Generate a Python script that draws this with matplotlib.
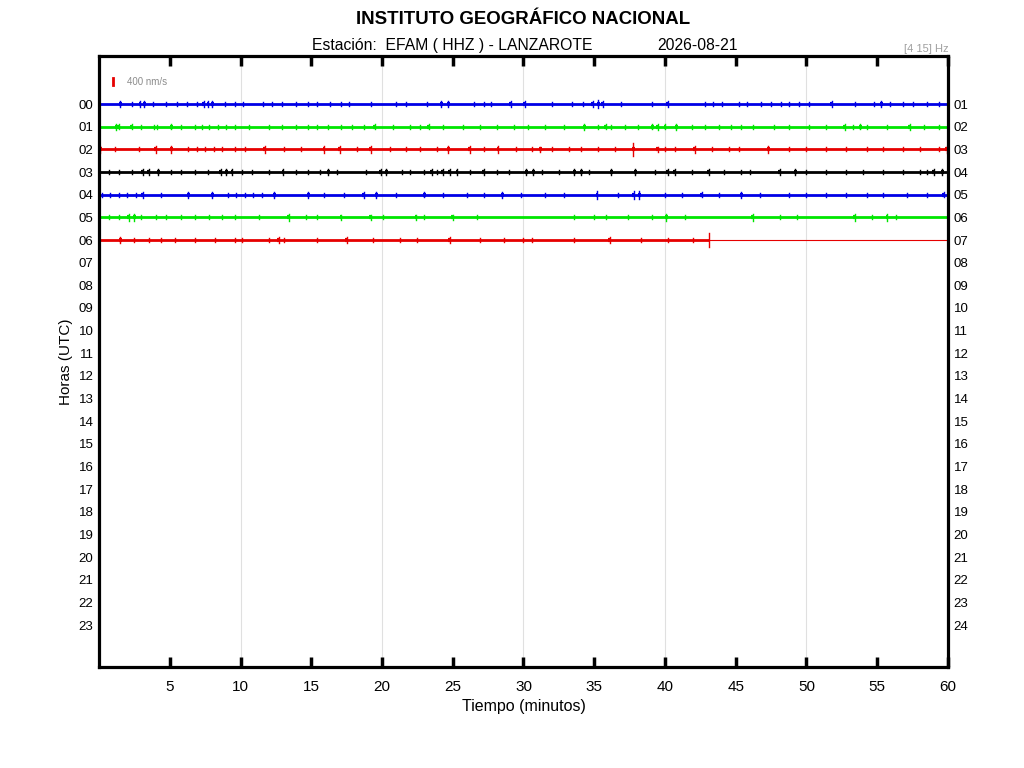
import matplotlib.pyplot as plt

plt.rcParams['font.family'] = ['Liberation Sans', 'DejaVu Sans']

horas_izq = [f"{h:02d}" for h in range(24)]
horas_der = [f"{h:02d}" for h in range(1, 25)]
colores = ['#0000e6', '#00e600', '#e60000', '#000000', '#0000e6', '#00e600', '#e60000']
fin_traza = [60, 60, 60, 60, 60, 60, 43.1]

rafagas_00 = [(1.5, .12), (2.3, .09), (2.9, .12), (3.2, .12), (3.8, .09), (4.7, .09), (5.5, .09), (6.2, .09),
              (6.9, .09), (7.4, .12), (7.7, .15), (8.0, .15), (8.9, .09), (9.6, .09), (10.2, .09), (11.6, .09),
              (12.2, .09), (12.9, .09), (13.9, .09), (14.8, .09), (15.4, .09), (16.3, .09), (17.1, .09),
              (17.7, .09), (19.2, .09), (21.0, .09), (21.7, .09), (23.2, .09), (24.2, .12), (24.7, .12),
              (26.5, .09), (27.2, .09), (27.7, .09), (29.1, .12), (30.1, .12), (32.0, .09), (33.4, .09),
              (34.2, .09), (34.9, .12), (35.3, .17), (35.6, .12), (36.9, .09), (39.1, .09), (40.2, .12),
              (42.8, .09), (43.4, .09), (44.0, .09), (45.2, .09), (45.8, .09), (46.8, .09), (47.5, .09),
              (48.2, .09), (48.8, .09), (49.5, .09), (50.2, .09), (51.8, .12), (53.4, .09), (54.8, .09),
              (55.3, .12), (55.9, .09), (56.8, .09), (57.5, .09), (58.5, .09), (59.4, .09)]
rafagas_01 = [(1.2, .14), (1.4, .12), (2.3, .12), (3.0, .09), (3.9, .09), (4.1, .09), (5.1, .12), (5.8, .09),
              (6.8, .09), (7.3, .09), (7.8, .09), (8.4, .09), (9.0, .09), (9.6, .09), (10.6, .09), (12.0, .09),
              (12.9, .09), (13.9, .09), (14.8, .09), (15.4, .09), (16.2, .09), (17.1, .09), (17.9, .09),
              (18.7, .09), (19.5, .12), (20.8, .09), (22.0, .09), (22.7, .09), (23.3, .12), (24.3, .09),
              (25.7, .09), (26.9, .09), (28.1, .09), (29.3, .09), (30.3, .09), (31.5, .09), (32.9, .09),
              (34.3, .14), (35.3, .09), (35.8, .12), (36.2, .09), (37.2, .09), (38.1, .09), (39.1, .12),
              (39.5, .14), (40.0, .12), (40.8, .14), (41.9, .09), (42.8, .09), (43.8, .09), (44.7, .09),
              (45.4, .09), (46.2, .09), (47.7, .09), (48.8, .09), (50.2, .09), (51.4, .09), (52.7, .14),
              (53.3, .09), (53.8, .12), (54.3, .09), (55.7, .09), (57.3, .14), (58.3, .09), (59.4, .09)]
rafagas_02 = [(0.1, .14), (1.1, .09), (2.8, .09), (4.0, .14), (5.1, .14), (6.3, .09), (6.9, .09), (7.5, .09),
              (8.1, .09), (8.7, .09), (9.6, .09), (10.3, .09), (11.7, .14), (13.1, .09), (14.3, .09),
              (15.9, .15), (17.0, .14), (18.2, .09), (19.2, .14), (20.6, .09), (21.7, .09), (22.7, .09),
              (23.9, .09), (24.7, .14), (26.2, .14), (27.2, .09), (28.2, .14), (29.5, .09), (30.6, .09),
              (31.2, .12), (32.0, .09), (33.2, .09), (34.1, .09), (35.3, .09), (36.5, .09), (37.75, .28),
              (39.5, .12), (40.0, .09), (40.7, .09), (42.1, .14), (43.3, .09), (44.5, .09), (45.2, .09),
              (47.3, .14), (48.8, .09), (50.0, .09), (51.4, .09), (52.8, .09), (54.3, .09), (55.4, .09),
              (56.8, .09), (58.0, .09), (59.4, .09), (59.9, .14)]
rafagas_03 = [(0.7, .09), (1.4, .09), (2.3, .09), (3.1, .12), (3.5, .14), (4.2, .14), (5.1, .09), (5.8, .09),
              (6.8, .09), (7.7, .09), (8.6, .12), (9.0, .14), (9.4, .12), (10.1, .09), (10.8, .09), (12.0, .09),
              (13.0, .14), (13.9, .09), (14.8, .09), (15.6, .09), (16.2, .12), (16.8, .09), (18.9, .09),
              (19.9, .12), (20.3, .12), (21.4, .09), (22.0, .09), (23.0, .09), (23.5, .12), (23.9, .09),
              (24.3, .12), (24.8, .12), (25.3, .14), (26.2, .09), (27.2, .12), (28.1, .09), (29.0, .09),
              (30.2, .12), (30.7, .12), (31.3, .09), (32.5, .09), (33.6, .12), (34.1, .12), (34.6, .09),
              (36.2, .14), (37.9, .12), (39.3, .09), (40.2, .12), (40.7, .12), (41.9, .09), (43.1, .12),
              (44.2, .09), (45.4, .09), (46.0, .09), (48.1, .15), (49.2, .14), (50.0, .09), (51.4, .09),
              (52.8, .09), (54.0, .09), (55.4, .09), (56.8, .09), (58.0, .09), (58.5, .09), (59.0, .12),
              (59.6, .14)]
rafagas_04 = [(0.2, .09), (0.8, .09), (1.4, .09), (2.0, .09), (2.6, .09), (3.1, .14), (4.4, .09), (6.3, .14),
              (8.0, .14), (9.1, .09), (9.7, .09), (10.3, .09), (10.9, .09), (11.5, .09), (12.4, .14),
              (14.8, .14), (15.9, .09), (17.3, .09), (18.7, .14), (19.6, .14), (21.0, .09), (23.0, .12),
              (24.3, .09), (26.0, .09), (27.2, .09), (28.5, .14), (29.8, .09), (31.5, .09), (32.9, .09),
              (35.2, .17), (36.7, .09), (37.8, .17), (38.2, .17), (40.0, .09), (41.2, .09), (42.6, .12),
              (43.8, .09), (45.4, .14), (46.7, .09), (48.8, .09), (50.0, .09), (51.4, .09), (52.8, .09),
              (54.3, .09), (55.4, .09), (57.1, .09), (58.5, .09), (59.7, .12)]
rafagas_05 = [(0.7, .09), (1.4, .09), (2.1, .14), (2.5, .14), (3.0, .09), (4.0, .09), (4.7, .09), (5.8, .09),
              (6.8, .09), (7.8, .09), (8.7, .09), (9.6, .09), (11.3, .09), (13.4, .14), (14.6, .09),
              (15.4, .09), (17.1, .12), (19.2, .12), (20.1, .09), (22.4, .12), (23.0, .09), (25.0, .12),
              (26.7, .09), (33.6, .09), (35.0, .09), (35.8, .09), (37.4, .09), (39.1, .09), (40.1, .15),
              (41.4, .09), (46.2, .14), (48.1, .09), (49.3, .09), (53.4, .14), (54.6, .09), (55.7, .14),
              (56.3, .09)]
rafagas_06 = [(1.5, .14), (2.5, .09), (3.5, .09), (4.4, .09), (5.4, .09), (6.8, .09), (8.2, .09), (9.6, .09),
              (10.1, .09), (12.0, .09), (12.7, .12), (13.1, .09), (15.4, .09), (17.5, .14), (19.4, .09),
              (21.3, .09), (22.5, .09), (24.8, .14), (26.9, .09), (28.6, .09), (30.0, .09), (30.6, .09),
              (33.6, .09), (36.1, .12), (38.3, .09), (40.2, .09), (42.0, .09)]
rafagas = [rafagas_00, rafagas_01, rafagas_02, rafagas_03, rafagas_04, rafagas_05, rafagas_06]

minutos_ticks = list(range(5, 61, 5))
minutos_rejilla = [10, 20, 30, 40, 50]

fig = plt.figure(figsize=(10.24, 7.68), dpi=100)
ax = fig.add_axes([0.0967, 0.1315, 0.829, 0.7955])
ax.set_xlim(0, 60)
ax.set_ylim(24.85, -2.12)

for m in minutos_rejilla:
    ax.axvline(m, color='#e0e0e0', lw=0.8, zorder=0)

for h, (col, fin, raf) in enumerate(zip(colores, fin_traza, rafagas)):
    ax.plot([0, fin], [h, h], color=col, lw=2.0, solid_capstyle='butt', zorder=2)
    for t, a in raf:
        ax.plot([t, t], [h - a, h + a], color=col, lw=1.0, zorder=2)
        if a >= 0.12:
            ax.plot([t - 0.1, t + 0.1], [h, h], color=col, lw=3.0, solid_capstyle='butt', zorder=2)
    if fin < 60:
        ax.plot([fin, 60], [h, h], color=col, lw=0.8, zorder=2)
        ax.plot([fin, fin], [h - 0.32, h + 0.32], color=col, lw=1.0, zorder=3)

# escala
ax.plot([1.0, 1.0], [-1.15, -0.84], color='#e60000', lw=2.0)
ax.text(2.0, -0.98, '400 nm/s', color='#8c8c8c', fontsize=7, va='center', ha='left')

ax.set_xticks(minutos_ticks)
ax.set_xticklabels([str(m) for m in minutos_ticks], fontsize=11)
ax.tick_params(axis='x', direction='in', length=7, width=2.5, top=True, pad=9)
ax.set_yticks(range(24))
ax.set_yticklabels(horas_izq, fontsize=9.5)
ax.tick_params(axis='y', length=0, pad=4)
for s in ax.spines.values():
    s.set_linewidth(2.3)

ax2 = ax.twinx()
ax2.set_ylim(ax.get_ylim())
ax2.set_yticks(range(24))
ax2.set_yticklabels(horas_der, fontsize=9.5)
ax2.tick_params(axis='y', length=0, pad=4)
for s in ax2.spines.values():
    s.set_visible(False)

ax.set_xlabel('Tiempo (minutos)', fontsize=11.5, labelpad=4)
ax.set_ylabel('Horas (UTC)', fontsize=11, labelpad=4)

fig.text(0.511, 0.975, 'INSTITUTO GEOGRÁFICO NACIONAL', ha='center', va='center', fontsize=13.4, fontweight='bold')
fig.text(0.305, 0.941, 'Estación:  EFAM ( HHZ ) - LANZAROTE', ha='left', va='center', fontsize=11.3)
fig.text(0.642, 0.941, '2026-08-21', ha='left', va='center', fontsize=11.3)
fig.text(0.926, 0.936, '[4 15] Hz', ha='right', va='center', fontsize=8, color='#a0a0a0')

plt.savefig('out.png', dpi=100)
